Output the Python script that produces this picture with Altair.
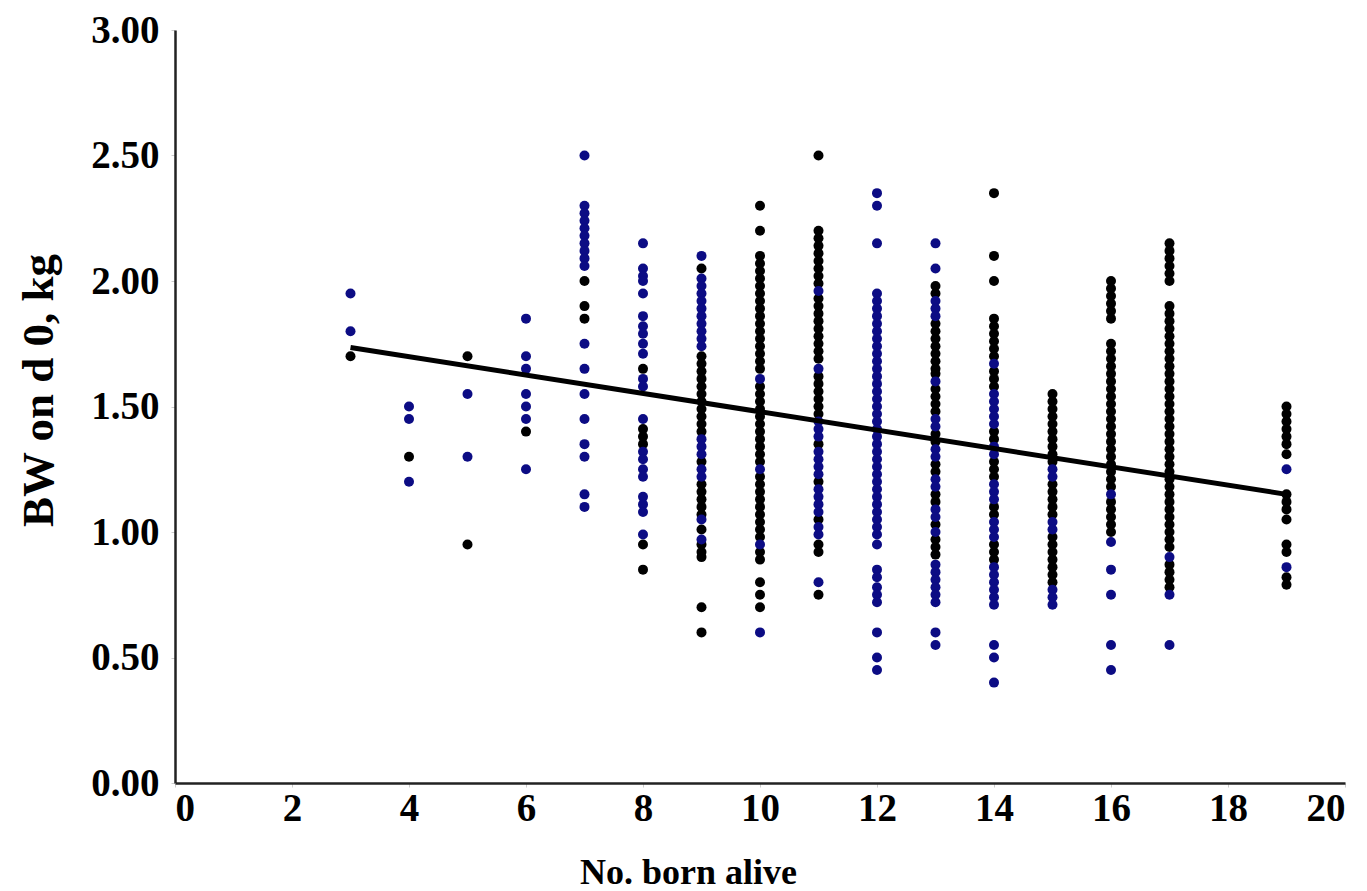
import altair as alt
import pandas as pd

# ---- data: birth weight (kg) by number born alive, two colour groups ----
blue_03 = [1.95, 1.80]
black_03 = [1.70]
blue_04 = [1.50, 1.45, 1.20]
black_04 = [1.30]
blue_05 = [1.55, 1.30]
black_05 = [1.70, 0.95]
blue_06 = [1.85, 1.70, 1.65, 1.55, 1.50, 1.45, 1.25]
black_06 = [1.40]
blue_07 = [2.50, 2.30, 2.27, 2.24, 2.21, 2.18, 2.15, 2.12, 2.09, 2.06,
           1.75, 1.65, 1.55, 1.45, 1.35, 1.30, 1.15, 1.10]
black_07 = [2.00, 1.90, 1.85]
blue_08 = [2.15, 2.05, 2.02, 2.00, 1.95, 1.86, 1.82, 1.79, 1.75, 1.71,
           1.61, 1.58, 1.45, 1.32, 1.29, 1.25, 1.22, 1.14, 1.11, 1.08, 0.99]
black_08 = [1.65, 1.41, 1.38, 1.35, 0.95, 0.85]
blue_09 = [2.10, 2.01, 1.98, 1.95, 1.92, 1.89, 1.86, 1.83, 1.80, 1.77, 1.74,
           1.37, 1.34, 1.31, 1.25, 1.22, 1.05, 0.97]
black_09 = [2.05, 1.70, 1.67, 1.64, 1.61, 1.58, 1.55, 1.52, 1.49, 1.46, 1.43,
            1.40, 1.28, 1.19, 1.16, 1.13, 1.10, 1.07, 1.01, 0.95, 0.92, 0.90,
            0.70, 0.60]
blue_10 = [1.61, 1.25, 0.95, 0.60]
black_10 = [2.30, 2.20, 2.10, 2.07, 2.04, 2.01, 1.98, 1.95, 1.92, 1.89, 1.86,
            1.83, 1.80, 1.77, 1.74, 1.71, 1.68, 1.65, 1.58, 1.55, 1.52, 1.49,
            1.46, 1.43, 1.40, 1.37, 1.34, 1.31, 1.28, 1.22, 1.19, 1.16, 1.13,
            1.10, 1.07, 1.04, 1.01, 0.98, 0.92, 0.89, 0.80, 0.75, 0.70]
blue_11 = [1.96, 1.65, 1.44, 1.41, 1.38, 1.32, 1.29, 1.26, 1.23, 1.17, 1.14,
           1.11, 1.08, 1.02, 0.99, 0.80]
black_11 = [2.50, 2.20, 2.17, 2.14, 2.11, 2.08, 2.05, 2.02, 1.99, 1.93, 1.90,
            1.87, 1.84, 1.81, 1.78, 1.75, 1.72, 1.69, 1.62, 1.59, 1.56, 1.53,
            1.50, 1.47, 1.35, 1.20, 1.05, 0.95, 0.92, 0.75]
blue_12 = [2.35, 2.30, 2.15, 1.95, 1.92, 1.89, 1.86, 1.83, 1.80, 1.77, 1.74,
           1.71, 1.68, 1.65, 1.62, 1.59, 1.56, 1.53, 1.50, 1.47, 1.44, 1.41,
           1.38, 1.35, 1.32, 1.29, 1.26, 1.23, 1.20, 1.17, 1.14, 1.11, 1.08,
           1.05, 1.02, 0.99, 0.95, 0.85, 0.82, 0.78, 0.75, 0.72, 0.60, 0.50,
           0.45]
black_12 = []
blue_13 = [2.15, 2.05, 1.92, 1.89, 1.86, 1.60, 1.45, 1.42, 1.33, 1.30, 1.21,
           1.18, 1.09, 1.06, 1.00, 0.87, 0.84, 0.81, 0.78, 0.75, 0.72, 0.60,
           0.55]
black_13 = [1.98, 1.95, 1.83, 1.80, 1.77, 1.74, 1.71, 1.68, 1.65, 1.63, 1.57,
            1.54, 1.51, 1.48, 1.39, 1.36, 1.27, 1.24, 1.15, 1.12, 1.03, 0.97,
            0.94, 0.91]
blue_14 = [1.67, 1.55, 1.52, 1.49, 1.46, 1.43, 1.34, 1.31, 1.19, 1.16, 1.13,
           1.04, 1.01, 0.98, 0.86, 0.83, 0.80, 0.77, 0.74, 0.71, 0.55, 0.50,
           0.40]
black_14 = [2.35, 2.10, 2.00, 1.85, 1.82, 1.79, 1.76, 1.73, 1.70, 1.64, 1.61,
            1.58, 1.40, 1.37, 1.28, 1.25, 1.22, 1.10, 1.07, 0.95, 0.92, 0.89]
blue_15 = [1.25, 1.22, 1.04, 1.01, 0.77, 0.74, 0.71]
black_15 = [1.55, 1.52, 1.49, 1.46, 1.43, 1.40, 1.37, 1.34, 1.31, 1.28, 1.19,
            1.16, 1.13, 1.10, 1.07, 0.98, 0.95, 0.92, 0.89, 0.86, 0.83, 0.80]
blue_16 = [1.15, 0.96, 0.85, 0.75, 0.55, 0.45]
black_16 = [2.00, 1.97, 1.94, 1.91, 1.88, 1.85, 1.75, 1.72, 1.69, 1.66, 1.63,
            1.60, 1.57, 1.54, 1.51, 1.48, 1.45, 1.42, 1.39, 1.36, 1.33, 1.30,
            1.27, 1.24, 1.21, 1.18, 1.12, 1.09, 1.06, 1.03, 1.00]
blue_17 = [0.90, 0.75, 0.55]
black_17 = [2.15, 2.12, 2.09, 2.06, 2.03, 2.00, 1.90, 1.87, 1.84, 1.81, 1.78,
            1.75, 1.72, 1.69, 1.66, 1.63, 1.60, 1.57, 1.54, 1.51, 1.48, 1.45,
            1.42, 1.39, 1.36, 1.33, 1.30, 1.27, 1.24, 1.21, 1.18, 1.15, 1.12,
            1.09, 1.06, 1.03, 1.00, 0.97, 0.94, 0.87, 0.84, 0.81, 0.78]
blue_19 = [1.25, 0.86]
black_19 = [1.50, 1.47, 1.44, 1.41, 1.38, 1.35, 1.31, 1.15, 1.12, 1.09, 1.05,
            0.95, 0.92, 0.82, 0.79]

# regression line end points
fit_x = [3, 19]
fit_y = [1.735, 1.150]

x_ticks = [0, 2, 4, 6, 8, 10, 12, 14, 16, 18, 20]
y_ticks = [0.0, 0.5, 1.0, 1.5, 2.0, 2.5, 3.0]

columns = {
    3: (blue_03, black_03), 4: (blue_04, black_04), 5: (blue_05, black_05),
    6: (blue_06, black_06), 7: (blue_07, black_07), 8: (blue_08, black_08),
    9: (blue_09, black_09), 10: (blue_10, black_10), 11: (blue_11, black_11),
    12: (blue_12, black_12), 13: (blue_13, black_13), 14: (blue_14, black_14),
    15: (blue_15, black_15), 16: (blue_16, black_16), 17: (blue_17, black_17),
    19: (blue_19, black_19),
}

rows = []
for n, (bl, bk) in columns.items():
    for v in bk:
        rows.append({"n": n, "bw": v, "grp": "black"})
    for v in bl:
        rows.append({"n": n, "bw": v, "grp": "blue"})
pts = pd.DataFrame(rows)
fit = pd.DataFrame({"n": fit_x, "bw": fit_y})

FONT = "Liberation Serif"

x_enc = alt.X(
    "n:Q",
    scale=alt.Scale(domain=[0, 20], nice=False, zero=False),
    axis=alt.Axis(
        values=x_ticks, title="No. born alive", format="d",
        grid=False, domainColor="#222222", domainWidth=2.5,
        tickColor="#cccccc", tickSize=4, labelPadding=2,
        labelFont=FONT, labelFontSize=39, labelFontWeight="bold",
        labelColor="black", titleFont=FONT, titleFontSize=36,
        titleFontWeight="bold", titleColor="black",
        titleX=513, titleY=100, titleAlign="center", titleBaseline="alphabetic",
    ),
)
y_enc = alt.Y(
    "bw:Q",
    scale=alt.Scale(domain=[0, 3], nice=False, zero=True),
    axis=alt.Axis(
        values=y_ticks, title="BW on d 0, kg", format=".2f",
        grid=False, domainColor="#222222", domainWidth=2.5,
        tickColor="#cccccc", tickSize=4, labelPadding=12,
        labelFont=FONT, labelFontSize=39, labelFontWeight="bold",
        labelColor="black", titleFont=FONT, titleFontSize=45,
        titleFontWeight="bold", titleColor="black",
        titleX=-137, titleY=360, titleAlign="center", titleBaseline="middle",
        titleAngle=270,
    ),
)

points = alt.Chart(pts).mark_point(
    shape="circle", filled=True, size=100, opacity=1
).encode(
    x=x_enc,
    y=y_enc,
    color=alt.Color(
        "grp:N",
        scale=alt.Scale(domain=["black", "blue"], range=["#000000", "#0c0c84"]),
        legend=None,
    ),
)

line = alt.Chart(fit).mark_line(color="black", strokeWidth=5).encode(
    x="n:Q", y="bw:Q"
)

chart = (
    alt.layer(points, line)
    .properties(
        width=1170,
        height=753,
        padding={"left": 175, "top": 30, "right": 22, "bottom": 108},
        autosize=alt.AutoSizeParams(type="none"),
        background="white",
    )
    .configure_view(stroke=None)
)

chart.save("out.html", embed_options={"renderer": "svg", "actions": False})
